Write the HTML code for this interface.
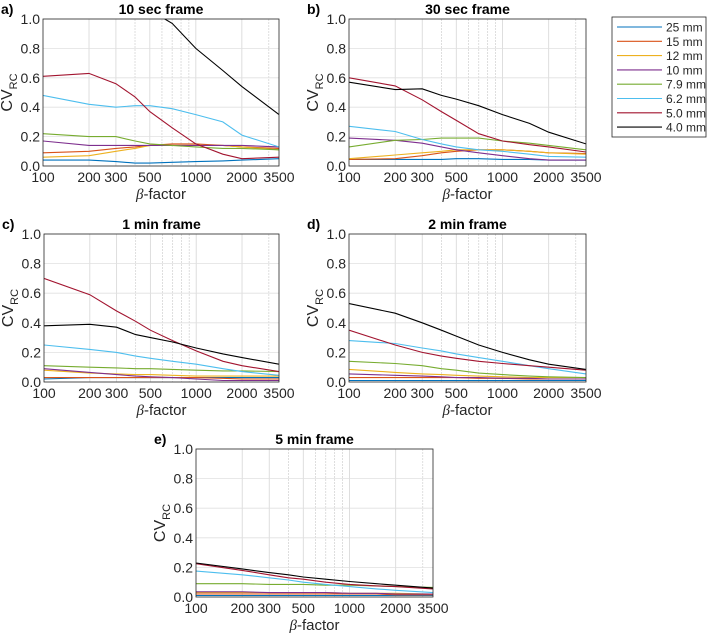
<!DOCTYPE html>
<html><head><meta charset="utf-8"><style>
body{margin:0;background:#fff;}
svg{display:block;font-family:"Liberation Sans",sans-serif;}
</style></head><body>
<svg id="fig" width="708" height="633" viewBox="0 0 708 633"></svg>
<script>
const xValues=[100,200,300,400,500,700,1000,1500,2000,3500];
const seriesNames=["25 mm","15 mm","12 mm","10 mm","7.9 mm","6.2 mm","5.0 mm","4.0 mm"];
const seriesColors=["#0072BD","#D95319","#EDB120","#7E2F8E","#77AC30","#4DBEEE","#A2142F","#000000"];
const yTicks=[0,0.2,0.4,0.6,0.8,1.0];
const xTickLabels=[100,200,300,500,1000,2000,3500];
const xGrid=[200,300,400,500,600,700,800,900,1000,2000,3000];
const panelA=[
[.04,.04,.03,.02,.02,.025,.03,.035,.04,.05],
[.09,.10,.12,.13,.14,.15,.15,.14,.13,.12],
[.06,.07,.10,.12,.14,.14,.14,.14,.13,.11],
[.17,.14,.14,.14,.14,.14,.14,.14,.14,.13],
[.22,.20,.20,.17,.15,.14,.13,.12,.12,.11],
[.48,.42,.40,.41,.41,.39,.35,.30,.21,.13],
[.61,.63,.56,.47,.37,.26,.15,.08,.05,.06],
[1.6,1.4,1.25,1.15,1.06,.97,.80,.65,.54,.35]];
const panelB=[
[.045,.045,.045,.045,.05,.05,.045,.045,.04,.04],
[.045,.05,.07,.09,.10,.11,.11,.10,.09,.085],
[.05,.075,.09,.10,.11,.11,.11,.10,.09,.08],
[.19,.175,.155,.13,.11,.09,.07,.05,.04,.04],
[.13,.175,.18,.19,.19,.19,.17,.155,.14,.11],
[.27,.235,.18,.15,.13,.11,.10,.08,.065,.06],
[.60,.545,.45,.37,.31,.22,.17,.145,.13,.095],
[.57,.52,.525,.48,.455,.41,.35,.29,.23,.15]];
const panelC=[
[.02,.03,.03,.03,.03,.03,.03,.03,.03,.03],
[.03,.03,.03,.03,.03,.03,.03,.025,.02,.02],
[.08,.06,.055,.05,.05,.045,.04,.04,.04,.04],
[.09,.065,.05,.04,.035,.03,.02,.01,.01,.01],
[.11,.10,.095,.09,.09,.085,.08,.075,.075,.07],
[.25,.22,.20,.175,.16,.14,.12,.09,.07,.045],
[.70,.59,.48,.41,.35,.28,.21,.14,.11,.07],
[.38,.39,.37,.32,.30,.27,.23,.19,.165,.12]];
const panelD=[
[.01,.01,.01,.01,.01,.01,.01,.01,.01,.01],
[.03,.03,.03,.03,.03,.025,.025,.02,.02,.02],
[.085,.065,.055,.05,.045,.04,.035,.03,.03,.03],
[.055,.045,.04,.035,.03,.03,.025,.025,.02,.02],
[.14,.125,.11,.09,.08,.06,.05,.04,.035,.03],
[.28,.26,.23,.21,.19,.165,.14,.11,.09,.055],
[.35,.25,.20,.175,.16,.14,.125,.11,.10,.08],
[.53,.465,.40,.35,.31,.25,.20,.15,.12,.085]];
const panelE=[
[.01,.01,.01,.01,.01,.01,.01,.01,.01,.01],
[.02,.02,.02,.02,.02,.02,.02,.02,.015,.015],
[.03,.03,.03,.03,.03,.03,.025,.025,.025,.02],
[.035,.035,.03,.03,.03,.03,.025,.025,.02,.02],
[.09,.09,.085,.085,.085,.08,.08,.075,.07,.065],
[.175,.15,.13,.115,.10,.085,.07,.055,.045,.03],
[.225,.18,.15,.13,.12,.10,.085,.075,.07,.055],
[.23,.19,.165,.15,.135,.12,.105,.09,.08,.06]];
const panels=[
{id:"a",title:"10 sec frame",data:panelA,x0:43,x1:279,y0:19,y1:166},
{id:"b",title:"30 sec frame",data:panelB,x0:349,x1:586,y0:19,y1:166},
{id:"c",title:"1 min frame",data:panelC,x0:44,x1:279,y0:234,y1:382},
{id:"d",title:"2 min frame",data:panelD,x0:349,x1:586,y0:234,y1:382},
{id:"e",title:"5 min frame",data:panelE,x0:196,x1:433,y0:449,y1:597}];
const NS="http://www.w3.org/2000/svg";
const svg=document.getElementById('fig');
function mk(tag,attrs,parent,text){const e=document.createElementNS(NS,tag);for(const k in attrs)e.setAttribute(k,attrs[k]);if(text!==undefined)e.textContent=text;(parent||svg).appendChild(e);return e;}
panels.forEach(p=>{
  const g=mk('g',{});
  
  
  const sx=v=>p.x0+(Math.log10(v)-2)/Math.log10(35)*(p.x1-p.x0);
  const sy=v=>p.y1-v*(p.y1-p.y0);
  xGrid.forEach(v=>{const l=mk('line',{x1:sx(v),x2:sx(v),y1:p.y0,y2:p.y1,stroke:'#d6d6d6','stroke-width':0.8,'stroke-dasharray':xTickLabels.includes(v)?'':'2,1'},g);
    });
  yTicks.forEach(v=>{const l=mk('line',{x1:p.x0,x2:p.x1,y1:sy(v),y2:sy(v),stroke:'#e0e0e0','stroke-width':0.8},g);
    
    const t=mk('text',{x:p.x0-3,y:sy(v)+5,'text-anchor':'end','font-size':14,fill:'#262626'},g,v.toFixed(1));
    });
  xTickLabels.forEach(v=>{const t=mk('text',{x:sx(v),y:p.y1+16,'text-anchor':'middle','font-size':14,fill:'#262626'},g,String(v));
    });
  const cid='clip'+p.id;
  const cp=mk('clipPath',{id:cid},g);mk('rect',{x:p.x0,y:p.y0,width:p.x1-p.x0,height:p.y1-p.y0},cp);
  p.data.forEach((s,i)=>{
    const d=s.map((v,j)=>(j?'L':'M')+sx(xValues[j]).toFixed(1)+','+sy(v).toFixed(1)).join('');
    const l=mk('path',{d:d,fill:'none',stroke:seriesColors[i],'stroke-width':1.1,'clip-path':'url(#'+cid+')'},g);
    
    
  });
  const box=mk('rect',{x:p.x0,y:p.y0,width:p.x1-p.x0,height:p.y1-p.y0,fill:'none',stroke:'#262626','stroke-width':0.8},g);
  
  const tt=mk('text',{x:(p.x0+p.x1)/2,y:p.y0-5,'text-anchor':'middle','font-size':14,'font-weight':'bold'},g,p.title);
  
  const pl=mk('text',{x:p.x0-42,y:p.y0-5,'font-size':14,'font-weight':'bold'},g,p.id+')');
  
  const xl=mk('text',{x:(p.x0+p.x1)/2,y:p.y1+33,'text-anchor':'middle','font-size':15,fill:'#262626'},g);
  
  mk('tspan',{'font-style':'italic','font-family':'Liberation Serif'},xl,'β');mk('tspan',{},xl,'-factor');
  const cy=(p.y0+p.y1)/2, lx=p.x0-31;
  const yl=mk('text',{x:lx,y:cy,transform:'rotate(-90 '+lx+' '+cy+')','text-anchor':'middle','font-size':16,fill:'#262626'},g);
  
  mk('tspan',{},yl,'CV');mk('tspan',{'font-size':11,dy:5},yl,'RC');
});
const lg=mk('g',{});


mk('rect',{x:612,y:17,width:94,height:120,fill:'#fff',stroke:'#262626','stroke-width':0.8},lg);
seriesNames.forEach((n,i)=>{const y=27+i*14.3;
  const e=mk('g',{},lg);
  
  
  mk('line',{x1:617,x2:662,y1:y,y2:y,stroke:seriesColors[i],'stroke-width':1.1},e);
  mk('text',{x:666,y:y+4.5,'font-size':12,fill:'#262626'},e,n);});
</script>
</body></html>
